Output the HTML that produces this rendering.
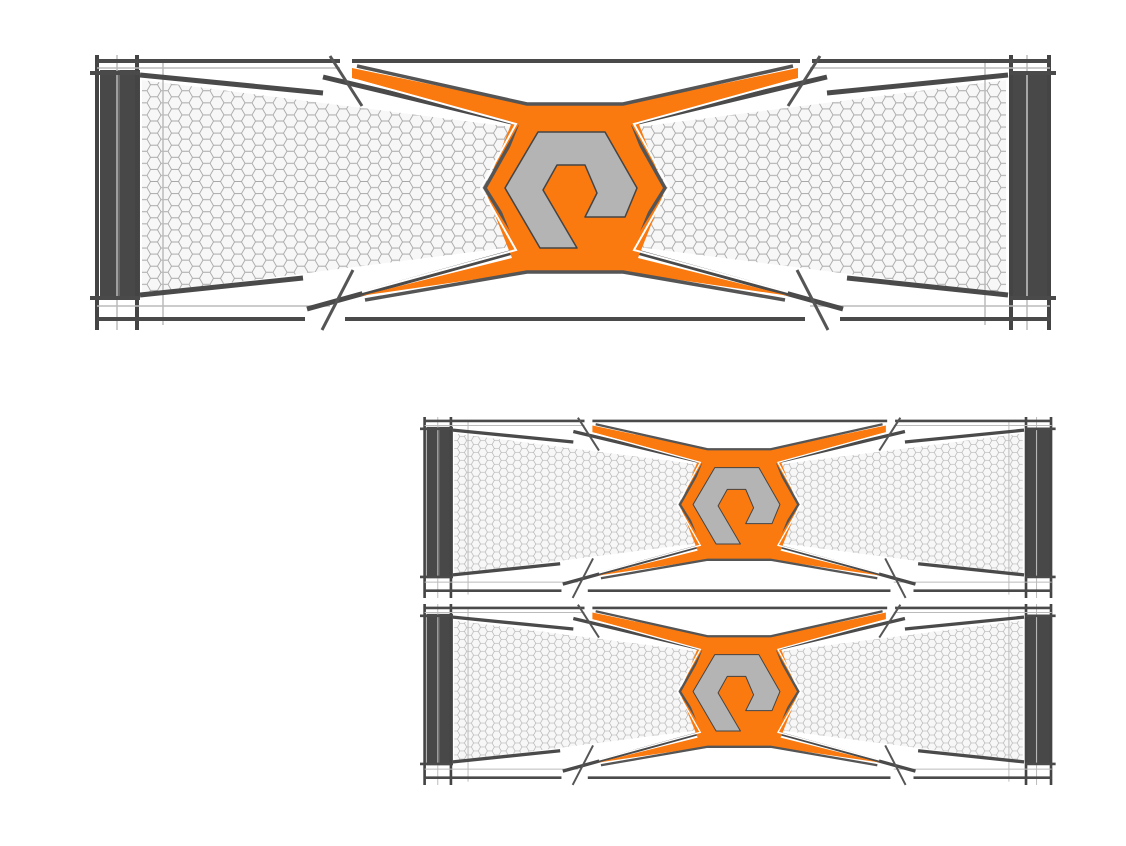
<!DOCTYPE html>
<html><head><meta charset="utf-8"><style>html,body{margin:0;padding:0;background:#fff}svg{display:block}</style></head>
<body>
<svg width="1126" height="846" viewBox="0 0 1126 846" xmlns="http://www.w3.org/2000/svg">
<defs>
<pattern id="hex" width="21" height="12.1" patternUnits="userSpaceOnUse">
<rect width="21" height="12.1" fill="#f7f7f7"/>
<path d="M0,6.05 L3.5,0 L10.5,0 L14,6.05 L10.5,12.1 L3.5,12.1 Z M14,6.05 L21,6.05" fill="none" stroke="#a8a8a8" stroke-width="0.9"/>
</pattern>
<g id="u">
<!-- mesh -->
<polygon points="142,80 520,128 485,188 520,246 142,294" fill="url(#hex)"/>
<polygon points="1006,80 630,128 665,188 630,246 1006,294" fill="url(#hex)"/>
<!-- white cutouts over mesh edges near slashes -->
<polygon points="300,92 520,122 520,130 300,100" fill="#fff" opacity="0"/>
<!-- verticals and bars -->
<rect x="100" y="70" width="40" height="230" fill="#484848"/>
<rect x="118" y="70" width="2" height="230" fill="#666"/>
<rect x="1010" y="72" width="38" height="226" fill="#484848"/>
<rect x="1026" y="72" width="2" height="226" fill="#666"/>
<g stroke="#444" stroke-width="4">
<line x1="97" y1="55" x2="97" y2="330"/><line x1="137" y1="55" x2="137" y2="330"/>
<line x1="1011" y1="55" x2="1011" y2="330"/><line x1="1049" y1="55" x2="1049" y2="330"/>
</g>
<g stroke="#bbb" stroke-width="1.5">
<line x1="117" y1="55" x2="117" y2="330"/><line x1="163" y1="60" x2="163" y2="325"/>
<line x1="985" y1="60" x2="985" y2="325"/><line x1="1027" y1="55" x2="1027" y2="330"/>
<line x1="97" y1="68" x2="340" y2="68"/><line x1="97" y1="306" x2="330" y2="306"/>
<line x1="810" y1="68" x2="1050" y2="68"/><line x1="810" y1="306" x2="1050" y2="306"/>
</g>
<!-- horizontals -->
<g stroke="#4a4a4a" stroke-width="4">
<line x1="97" y1="61" x2="340" y2="61"/><line x1="352" y1="61" x2="800" y2="61"/><line x1="812" y1="61" x2="1050" y2="61"/>
<line x1="90" y1="73" x2="140" y2="73"/><line x1="1010" y1="73" x2="1056" y2="73"/>
<line x1="90" y1="298" x2="140" y2="298"/><line x1="1010" y1="298" x2="1056" y2="298"/>
<line x1="97" y1="319" x2="305" y2="319"/><line x1="345" y1="319" x2="805" y2="319"/><line x1="840" y1="319" x2="1050" y2="319"/>
</g>
<!-- diagonal strokes -->
<g stroke="#4a4a4a" stroke-width="5" stroke-linecap="butt">
<line x1="140" y1="75" x2="323" y2="93"/><line x1="1008" y1="75" x2="827" y2="93"/>
<line x1="140" y1="295" x2="303" y2="278"/><line x1="1008" y1="295" x2="847" y2="278"/>
<line x1="323" y1="77" x2="520" y2="124"/><line x1="827" y1="77" x2="630" y2="124"/>
<line x1="307" y1="309" x2="520" y2="250"/><line x1="843" y1="309" x2="630" y2="250"/>
</g>
<g stroke="#555" stroke-width="3">
<line x1="330" y1="56" x2="362" y2="106"/><line x1="820" y1="56" x2="788" y2="106"/>
<line x1="353" y1="270" x2="322" y2="330"/><line x1="797" y1="270" x2="828" y2="330"/>
</g>
<!-- orange X body -->
<polygon points="352,68 525,104 625,104 798,68 798,78 638,122 665,190 638,258 790,296 625,272 525,272 360,296 512,258 485,190 512,122 352,78" fill="#fa7a10"/>
<g stroke="#555" stroke-width="3.5" fill="none">
<polyline points="357,66 527,104 623,104 793,66"/>
<polyline points="365,300 527,272 623,272 785,300"/>
<polyline points="520,126 485,188 520,244"/><polyline points="630,126 665,188 630,244"/>
</g>
<g stroke="#fff" stroke-width="2" fill="none">
<polyline points="356,80 516,124 481,188 516,250 362,292"/>
<polyline points="794,80 634,124 669,188 634,250 788,292"/>
</g>
<!-- orange hex -->
<polygon points="525,110 625,110 657,190 625,268 525,268 493,190" fill="#fa7a10"/>
<!-- gray logo -->
<polygon points="538,132 605,132 637,188 625,217 585,217 597,193 585,165 557,165 543,190 577,248 540,248 505,188" fill="#b4b4b4" stroke="#444" stroke-width="1.5" stroke-linejoin="round"/>
</g>
</defs>
<use href="#u"/>
<use href="#u" transform="translate(420,417) scale(0.658) translate(-90,-55)"/>
<use href="#u" transform="translate(420,604) scale(0.658) translate(-90,-55)"/>
</svg>
</body></html>
